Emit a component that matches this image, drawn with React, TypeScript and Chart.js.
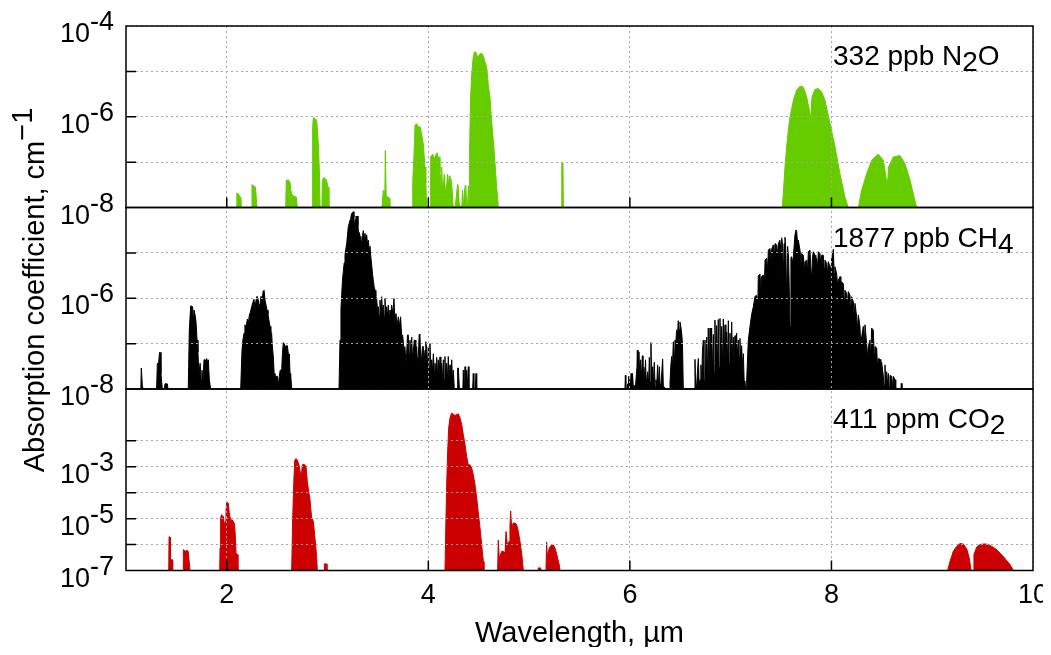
import React, { useEffect, useRef } from "react";
import { Chart, registerables } from "chart.js";

Chart.register(...registerables);

// ---------- data (wavelength in µm, absorption coefficient in cm^-1) ----------
const WAVELENGTH_TICKS = [2, 4, 6, 8, 10];

const N2O_GRID_EXPONENTS = [-8, -7, -6, -5, -4];
const CH4_GRID_EXPONENTS = [-8, -7, -6, -5, -4];
const CO2_GRID_EXPONENTS = [-7, -6, -5, -4, -3, -2];

const N2O_LABEL_EXPONENTS = [-4, -6, -8];
const CH4_LABEL_EXPONENTS = [-6, -8];
const CO2_LABEL_EXPONENTS = [-3, -5, -7];

const N2O_LABEL: [string, number][] = [["332 ppb N", 0], ["2", 6], ["O", 0]];
const CH4_LABEL: [string, number][] = [["1877 ppb CH", 0], ["4", 6]];
const CO2_LABEL: [string, number][] = [["411 ppm CO", 0], ["2", 6]];

const N2O_SPECTRUM: number[][] = [
  [1.0, 1e-8],
  [2.095, 1e-8], [2.1, 2.1e-8], [2.115, 2.0e-8], [2.13, 1.7e-8], [2.14, 1.7e-8], [2.145, 1e-8],
  [2.245, 1e-8], [2.25, 3.2e-8], [2.265, 3.0e-8], [2.285, 2.8e-8], [2.3, 1e-8],
  [2.585, 1e-8], [2.59, 4e-8], [2.615, 4e-8], [2.627, 3.6e-8], [2.635, 2.4e-8], [2.645, 2e-8], [2.66, 1.8e-8], [2.69, 1.7e-8], [2.7, 1e-8],
  [2.846, 1e-8], [2.852, 6e-7], [2.859, 9.6e-7], [2.875, 9.2e-7], [2.892, 8.4e-7], [2.903, 4e-7], [2.912, 1.6e-7], [2.919, 6e-8], [2.926, 1e-8],
  [2.944, 1e-8], [2.948, 4e-8], [2.965, 4.6e-8], [2.99, 4e-8], [3.005, 2.8e-8], [3.014, 1e-8],
  [3.54, 1e-8], [3.553, 2.4e-8], [3.569, 2.2e-8], [3.573, 1.8e-7], [3.579, 1.8e-7], [3.582, 1.8e-8], [3.615, 1.6e-8], [3.618, 1e-8],
  [3.838, 1e-8], [3.845, 3.6e-8], [3.858, 1.5e-7], [3.868, 6.5e-7], [3.88, 7e-7], [3.891, 6.7e-7], [3.9, 5.6e-7], [3.908, 6.2e-7], [3.92, 5.8e-7], [3.935, 4e-7], [3.951, 2.4e-7], [3.967, 7.8e-8], [3.975, 3.5e-8], [3.984, 1e-8],
  [4.017, 1e-8], [4.023, 1.3e-7], [4.043, 1.5e-7], [4.055, 1.2e-7], [4.066, 1.3e-7], [4.078, 1.5e-7], [4.089, 1.6e-7], [4.1, 1.2e-7], [4.108, 1.3e-7], [4.115, 6e-8], [4.122, 4.7e-8], [4.128, 2e-8], [4.132, 7.8e-8], [4.14, 3e-8], [4.148, 2.8e-8], [4.158, 5.4e-8], [4.165, 5.4e-8], [4.172, 2e-8], [4.181, 2.8e-8], [4.19, 5.4e-8], [4.198, 3e-8], [4.208, 5e-8], [4.214, 2.4e-8], [4.224, 4.3e-8], [4.232, 3e-8], [4.24, 2e-8], [4.247, 1e-8],
  [4.263, 1e-8], [4.273, 1.4e-8], [4.29, 3.2e-8], [4.295, 3.2e-8], [4.306, 1.3e-8], [4.319, 1e-8], [4.332, 1e-8], [4.339, 2.4e-8], [4.346, 1.2e-8], [4.352, 1.6e-8], [4.365, 3e-8], [4.372, 3.1e-8], [4.38, 1.2e-8], [4.39, 1.2e-8], [4.398, 3.0e-8], [4.405, 1e-8],
  [4.408, 1e-8], [4.411, 1.8e-7], [4.418, 2.3e-6], [4.431, 9e-6], [4.444, 1.93e-5], [4.456, 2.7e-5], [4.473, 2.6e-5], [4.485, 2.2e-5], [4.496, 2.1e-5], [4.51, 2.4e-5], [4.529, 2.5e-5], [4.545, 2.2e-5], [4.562, 1.6e-5], [4.579, 1.26e-5], [4.595, 5e-6], [4.612, 2.7e-6], [4.628, 8e-7], [4.645, 3e-7], [4.661, 1e-7], [4.678, 2.8e-8], [4.695, 1e-8],
  [5.32, 1e-8], [5.324, 9.7e-8], [5.336, 9.7e-8], [5.34, 1e-8],
  [7.512, 1e-8], [7.522, 2e-8], [7.539, 7.8e-8], [7.556, 2.2e-7], [7.572, 5e-7], [7.589, 9.9e-7], [7.622, 2.3e-6], [7.655, 3.9e-6], [7.688, 4.7e-6], [7.721, 4.5e-6], [7.754, 2.75e-6], [7.78, 1.4e-6], [7.794, 9.1e-7], [7.807, 2.75e-6], [7.837, 4e-6], [7.87, 4.2e-6], [7.903, 3.5e-6], [7.936, 2.3e-6], [7.986, 7.1e-7], [8.035, 2.2e-7], [8.085, 5.5e-8], [8.134, 1.7e-8], [8.167, 1e-8],
  [8.267, 1e-8], [8.3, 2.4e-8], [8.349, 5.5e-8], [8.399, 1.1e-7], [8.465, 1.5e-7], [8.515, 1.1e-7], [8.541, 4.7e-8], [8.554, 2.8e-8], [8.567, 7.8e-8], [8.614, 1.3e-7], [8.68, 1.4e-7], [8.73, 9.2e-8], [8.78, 4e-8], [8.829, 1.4e-8], [8.846, 1e-8],
  [10.0, 1e-8],
];

const CH4_SPECTRUM: number[][] = [
  [1.0, 1e-8],
  [1.14, 1e-8], [1.148, 1.3e-8], [1.152, 2.9e-8], [1.158, 2.9e-8], [1.162, 1.2e-8], [1.17, 1e-8],
  [1.304, 1e-8], [1.311, 3.7e-8], [1.322, 3.4e-8], [1.333, 6.4e-8], [1.34, 6.4e-8], [1.347, 2.2e-8], [1.36, 1e-8],
  [1.38, 1e-8], [1.387, 1.3e-8], [1.41, 1.3e-8], [1.417, 1e-8],
  [1.618, 1e-8], [1.628, 2e-7], [1.642, 6.8e-7], [1.661, 6.5e-7], [1.668, 3e-7], [1.675, 5.5e-7], [1.688, 4e-7], [1.695, 3e-7], [1.705, 1.2e-7], [1.714, 6.6e-8], [1.721, 2.6e-8], [1.728, 2.6e-8], [1.735, 3.7e-8], [1.741, 3.7e-8], [1.748, 1.5e-8], [1.754, 2.6e-8], [1.764, 1.5e-8], [1.774, 4.4e-8], [1.785, 4.4e-8], [1.792, 2e-8], [1.8, 4.7e-8], [1.81, 3.9e-8], [1.817, 4.4e-8], [1.827, 1.6e-8], [1.84, 1e-8],
  [2.138, 1e-8], [2.151, 7.2e-8], [2.16, 1.2e-7], [2.171, 1.7e-7], [2.18, 2.6e-7], [2.188, 2.2e-7], [2.197, 2.8e-7], [2.205, 3.5e-7], [2.214, 2.8e-7], [2.224, 4.3e-7], [2.235, 5e-7], [2.247, 6.5e-7], [2.258, 8e-7], [2.27, 9.5e-7], [2.28, 6e-7], [2.29, 9e-7], [2.3, 1.1e-6], [2.31, 9.9e-7], [2.32, 6.5e-7], [2.33, 7.7e-7], [2.34, 1.1e-6], [2.35, 9e-7], [2.36, 1.4e-6], [2.37, 1.5e-6], [2.38, 9e-7], [2.39, 7e-7], [2.4, 5.5e-7], [2.409, 4.5e-7], [2.418, 3.3e-7], [2.429, 2.4e-7], [2.437, 1.8e-7], [2.445, 1.7e-7], [2.452, 9e-8], [2.462, 5.1e-8], [2.47, 2.2e-8], [2.478, 1.9e-8], [2.49, 1.9e-8], [2.502, 1.9e-8], [2.51, 1.2e-8], [2.521, 1.9e-8], [2.53, 2.6e-8], [2.545, 2.6e-8], [2.552, 6e-8], [2.561, 1.05e-7], [2.571, 1e-7], [2.581, 8.6e-8], [2.591, 9e-8], [2.601, 9e-8], [2.611, 6e-8], [2.621, 5.9e-8], [2.628, 2e-8], [2.634, 2.2e-8], [2.644, 1e-8],
  [3.1135, 1e-8], [3.1235, 1.2e-7], [3.133, 6e-7], [3.14, 1.2e-6], [3.148, 2.5e-6], [3.157, 4e-6], [3.165, 6e-6], [3.173, 9e-6], [3.181, 1.2e-5], [3.19, 1.6e-5], [3.198, 2.5e-5], [3.206, 3.8e-5], [3.215, 4.5e-5], [3.223, 5.3e-5], [3.231, 6e-5], [3.239, 7.4e-5], [3.248, 7.8e-5], [3.256, 8.1e-5], [3.262, 6e-5], [3.269, 3.5e-5], [3.276, 5.5e-5], [3.282, 6.5e-5], [3.289, 6e-5], [3.296, 6.5e-5], [3.302, 4e-5], [3.309, 2.5e-5], [3.316, 2.8e-5], [3.322, 2.3e-5], [3.33, 2e-5], [3.338, 1.6e-5], [3.346, 2.4e-5], [3.355, 3.1e-5], [3.363, 2.2e-5], [3.371, 2.7e-5], [3.38, 2e-5], [3.388, 2.5e-5], [3.396, 1.6e-5], [3.405, 1.9e-5], [3.413, 1.2e-5], [3.421, 1.4e-5], [3.43, 8e-6], [3.438, 5.4e-6], [3.446, 3.5e-6], [3.454, 2.5e-6], [3.462, 1.8e-6], [3.471, 1.5e-6], [3.479, 1.1e-6], [3.487, 9.9e-7], [3.495, 6e-7], [3.504, 6.5e-7], [3.512, 4e-7], [3.52, 9.1e-7], [3.528, 5e-7], [3.537, 1.08e-6], [3.545, 5e-7], [3.554, 7.1e-7], [3.562, 4e-7], [3.57, 9.9e-7], [3.578, 4.5e-7], [3.587, 6.5e-7], [3.595, 4e-7], [3.603, 7.1e-7], [3.612, 3.5e-7], [3.62, 5.5e-7], [3.628, 3.8e-7], [3.636, 7.1e-7], [3.648, 4.5e-7], [3.659, 9.9e-7], [3.669, 3e-7], [3.679, 4.6e-7], [3.69, 2.5e-7], [3.702, 3.9e-7], [3.713, 2.5e-7], [3.725, 3.9e-7], [3.735, 1.5e-7], [3.745, 1.55e-7], [3.757, 8e-8], [3.768, 8.6e-8], [3.777, 4e-8], [3.785, 6.1e-8], [3.793, 1.55e-7], [3.801, 1.55e-7], [3.81, 6e-8], [3.818, 1.2e-7], [3.826, 5e-8], [3.835, 1.4e-7], [3.843, 5e-8], [3.851, 6.6e-8], [3.86, 1.2e-7], [3.868, 1.2e-7], [3.876, 5e-8], [3.884, 8.6e-8], [3.892, 4e-8], [3.901, 5.2e-8], [3.909, 1.6e-7], [3.917, 1.55e-7], [3.925, 4e-8], [3.934, 5.2e-8], [3.942, 8.6e-8], [3.95, 8.6e-8], [3.958, 4e-8], [3.967, 7.2e-8], [3.975, 1.1e-7], [3.983, 8e-8], [3.991, 3e-8], [4.0, 8.6e-8], [4.008, 3e-8], [4.016, 1.0e-7], [4.024, 2.5e-8], [4.033, 4.4e-8], [4.041, 2.5e-8], [4.05, 6e-8], [4.058, 2.5e-8], [4.066, 3.7e-8], [4.075, 2e-8], [4.083, 5e-8], [4.091, 2e-8], [4.099, 4.4e-8], [4.107, 2e-8], [4.116, 5.1e-8], [4.124, 1.6e-8], [4.132, 3.7e-8], [4.14, 1.6e-8], [4.149, 4.4e-8], [4.157, 1.6e-8], [4.165, 5.2e-8], [4.173, 1.5e-8], [4.182, 3.7e-8], [4.19, 1.5e-8], [4.198, 5.2e-8], [4.206, 1.5e-8], [4.215, 3.4e-8], [4.223, 1.5e-8], [4.232, 4.4e-8], [4.24, 1.5e-8], [4.248, 2.6e-8], [4.258, 1e-8],
  [4.285, 1e-8], [4.291, 2.9e-8], [4.298, 2.9e-8], [4.308, 1e-8],
  [4.343, 1e-8], [4.347, 2.6e-8], [4.352, 1e-8], [4.36, 1e-8], [4.364, 3.1e-8], [4.37, 1e-8], [4.376, 1e-8], [4.38, 2.6e-8], [4.386, 1e-8], [4.392, 1e-8], [4.397, 3.1e-8], [4.403, 1e-8], [4.44, 1e-8], [4.446, 2.2e-8], [4.452, 1e-8], [4.466, 1e-8], [4.473, 2.2e-8], [4.48, 1e-8],
  [5.951, 1e-8], [5.955, 2e-8], [5.96, 1e-8], [5.972, 1e-8], [5.976, 1.3e-8], [5.982, 1e-8], [5.986, 1.9e-8], [5.99, 1.1e-8], [5.997, 1.6e-8], [6.004, 1.1e-8], [6.012, 2.2e-8], [6.018, 1.2e-8], [6.026, 2.2e-8], [6.034, 1.1e-8], [6.045, 1.2e-8], [6.055, 1.1e-8], [6.07, 3e-8], [6.074, 7.2e-8], [6.08, 2.5e-8], [6.09, 6.6e-8], [6.098, 2e-8], [6.107, 4.4e-8], [6.114, 1.6e-8], [6.124, 5.4e-8], [6.13, 1.5e-8], [6.14, 3e-8], [6.147, 1.4e-8], [6.155, 4.4e-8], [6.162, 1.3e-8], [6.176, 2.4e-8], [6.185, 1.2e-8], [6.193, 5e-8], [6.2, 1.4e-8], [6.209, 1.05e-7], [6.216, 1.5e-8], [6.226, 3.1e-8], [6.232, 1.2e-8], [6.242, 3.9e-8], [6.25, 1.1e-8], [6.259, 1.6e-8], [6.266, 1.1e-8], [6.275, 3.4e-8], [6.282, 1.1e-8], [6.292, 3.1e-8], [6.3, 1.1e-8], [6.31, 1.4e-8], [6.325, 4.6e-8], [6.332, 1.1e-8], [6.342, 1.1e-8], [6.355, 1e-8],
  [6.395, 1e-8], [6.398, 1.33e-8], [6.405, 3e-8], [6.414, 5.2e-8], [6.422, 3e-8], [6.431, 1.1e-7], [6.44, 6e-8], [6.447, 1.2e-7], [6.455, 1e-7], [6.464, 2e-7], [6.472, 1.5e-7], [6.48, 3.2e-7], [6.488, 2e-7], [6.497, 3e-7], [6.505, 2.4e-7], [6.514, 1.7e-7], [6.522, 1e-7], [6.53, 1e-8],
  [6.64, 1e-8], [6.646, 4.5e-8], [6.652, 1.2e-8], [6.662, 1.2e-8], [6.667, 1.8e-8], [6.679, 4.7e-8], [6.688, 1.2e-8], [6.696, 1.6e-8], [6.705, 3.4e-8], [6.712, 1.2e-8], [6.72, 7e-8], [6.729, 1.2e-7], [6.737, 1.5e-8], [6.745, 1.2e-7], [6.752, 1.4e-8], [6.762, 1.4e-7], [6.77, 2e-8], [6.778, 2.2e-7], [6.786, 1.5e-8], [6.795, 2.2e-7], [6.803, 2e-8], [6.811, 2.2e-7], [6.82, 2.5e-8], [6.828, 1.6e-7], [6.836, 2.2e-8], [6.844, 3.3e-7], [6.852, 2.5e-8], [6.861, 2.5e-7], [6.869, 3e-8], [6.877, 3.4e-7], [6.885, 3e-8], [6.894, 3.6e-7], [6.902, 3.5e-8], [6.911, 2.4e-7], [6.919, 3e-8], [6.927, 3.5e-7], [6.935, 4e-8], [6.944, 2.6e-7], [6.952, 3.5e-8], [6.96, 1.8e-7], [6.968, 4e-8], [6.977, 3.2e-7], [6.985, 3.5e-8], [6.993, 1.7e-7], [7.001, 4e-8], [7.01, 3e-7], [7.018, 5e-8], [7.026, 1.4e-7], [7.034, 4e-8], [7.043, 1.5e-7], [7.051, 5e-8], [7.059, 1.7e-7], [7.067, 5e-8], [7.076, 1.2e-7], [7.084, 5e-8], [7.092, 1.3e-7], [7.1, 4e-8], [7.109, 9e-8], [7.117, 3e-8], [7.126, 6e-8], [7.134, 1.5e-8], [7.142, 1.4e-8], [7.15, 1e-8],
  [7.155, 1e-8], [7.159, 1.6e-8], [7.175, 1.2e-7], [7.192, 2.4e-7], [7.208, 4.4e-7], [7.225, 6.5e-7], [7.241, 1.1e-6], [7.258, 1.15e-6], [7.27, 8e-7], [7.274, 3.1e-6], [7.291, 3.4e-6], [7.3, 1.5e-6], [7.307, 3e-6], [7.324, 3.25e-6], [7.335, 2e-6], [7.341, 6.9e-6], [7.357, 7.6e-6], [7.366, 4e-6], [7.374, 1.15e-5], [7.39, 1.25e-5], [7.4, 7e-6], [7.407, 1.2e-5], [7.423, 1.5e-5], [7.432, 8e-6], [7.44, 1.6e-5], [7.456, 1.5e-5], [7.465, 9e-6], [7.473, 1.6e-5], [7.489, 1.9e-5], [7.5, 1e-5], [7.506, 2.15e-5], [7.515, 1.5e-5], [7.522, 3e-6], [7.53, 1.6e-5], [7.539, 2.2e-5], [7.547, 1.2e-5], [7.556, 8.4e-7], [7.565, 1.4e-5], [7.575, 7.6e-6], [7.589, 2.4e-7], [7.598, 8e-6], [7.605, 8.2e-6], [7.615, 6e-6], [7.622, 8.2e-6], [7.638, 2.5e-5], [7.648, 3.2e-5], [7.655, 3e-5], [7.665, 1.5e-5], [7.671, 1.9e-5], [7.688, 1.15e-5], [7.7, 6e-6], [7.704, 9.7e-6], [7.721, 8.9e-6], [7.73, 5e-6], [7.737, 6.4e-6], [7.754, 6.9e-6], [7.762, 4e-6], [7.771, 1.06e-5], [7.787, 1.15e-5], [7.795, 5e-6], [7.804, 2.5e-6], [7.812, 8e-6], [7.82, 1.06e-5], [7.837, 8.9e-6], [7.845, 5e-6], [7.853, 7.6e-6], [7.862, 4.5e-6], [7.87, 1.06e-5], [7.886, 9.7e-6], [7.895, 5e-6], [7.903, 8.9e-6], [7.919, 8.9e-6], [7.928, 4.5e-6], [7.936, 6.9e-6], [7.952, 5.9e-6], [7.96, 3.5e-6], [7.969, 6.4e-6], [7.986, 4.95e-6], [7.995, 3e-6], [8.002, 7.6e-6], [8.019, 1.2e-5], [8.027, 3.5e-6], [8.035, 4.95e-6], [8.052, 3.5e-6], [8.06, 2e-6], [8.068, 2.5e-6], [8.085, 3e-6], [8.093, 1.5e-6], [8.101, 2.3e-6], [8.118, 2.1e-6], [8.126, 1e-6], [8.134, 1.5e-6], [8.151, 1.28e-6], [8.16, 7e-7], [8.167, 1.4e-6], [8.184, 1.17e-6], [8.19, 5e-7], [8.2, 1.08e-6], [8.217, 8.4e-7], [8.225, 4e-7], [8.234, 7.7e-7], [8.25, 3.9e-7], [8.258, 2e-7], [8.267, 4.3e-7], [8.283, 2.4e-7], [8.29, 1e-7], [8.3, 1.4e-7], [8.316, 2.4e-7], [8.325, 8e-8], [8.333, 2.6e-7], [8.349, 1e-7], [8.357, 5e-8], [8.366, 8.6e-8], [8.382, 1.2e-7], [8.39, 5e-8], [8.399, 2.2e-7], [8.415, 2e-7], [8.424, 6e-8], [8.432, 8.6e-8], [8.449, 8e-8], [8.457, 3e-8], [8.465, 4.7e-8], [8.482, 4.5e-8], [8.49, 2e-8], [8.498, 3.9e-8], [8.515, 1.9e-8], [8.523, 1.2e-8], [8.531, 3.4e-8], [8.54, 1.2e-8], [8.548, 2.4e-8], [8.556, 1.2e-8], [8.564, 2.2e-8], [8.573, 1.1e-8], [8.581, 2e-8], [8.597, 1.9e-8], [8.605, 1.1e-8], [8.614, 1.9e-8], [8.631, 1.6e-8], [8.638, 1e-8],
  [8.69, 1e-8], [8.693, 1.33e-8], [8.7, 1e-8],
  [10.0, 1e-8],
];

const CO2_SPECTRUM: number[][] = [
  [1.0, 1e-7],
  [1.424, 1e-7], [1.427, 2e-6], [1.437, 1.9e-6], [1.441, 2.6e-7], [1.46, 2.6e-7], [1.463, 1e-7],
  [1.566, 1e-7], [1.569, 6.4e-7], [1.589, 5.5e-7], [1.602, 6e-7], [1.618, 5.5e-7], [1.635, 1e-7],
  [1.93, 1e-7], [1.933, 7.4e-7], [1.939, 1.06e-5], [1.949, 1.43e-5], [1.96, 1.2e-5], [1.966, 1.23e-5], [1.976, 5.9e-6], [1.986, 7.9e-6], [1.992, 1.9e-5], [1.999, 4.4e-5], [2.008, 4.2e-5], [2.015, 4e-5], [2.025, 1.66e-5], [2.039, 8.3e-6], [2.052, 9.2e-6], [2.065, 7.9e-6], [2.078, 5.9e-6], [2.085, 2e-6], [2.092, 4.7e-7], [2.105, 4.1e-7], [2.111, 1e-7],
  [2.644, 1e-7], [2.654, 1.06e-5], [2.664, 2.06e-4], [2.674, 1.74e-3], [2.687, 2.07e-3], [2.703, 1.74e-3], [2.712, 1.3e-3], [2.72, 1.05e-3], [2.73, 5.8e-4], [2.74, 4.5e-4], [2.75, 1.2e-3], [2.766, 1.25e-3], [2.786, 1.05e-3], [2.799, 2.76e-4], [2.813, 1.1e-4], [2.826, 5.4e-5], [2.842, 1.06e-5], [2.859, 7.9e-6], [2.875, 1.8e-6], [2.892, 3.5e-7], [2.898, 1e-7],
  [2.965, 1e-7], [2.968, 1.8e-7], [2.991, 1.8e-7], [2.994, 1e-7],
  [4.165, 1e-7], [4.175, 1.06e-5], [4.182, 2.06e-4], [4.192, 4e-3], [4.202, 3.2e-2], [4.215, 7.7e-2], [4.232, 0.12], [4.248, 0.104], [4.265, 0.095], [4.281, 0.104], [4.298, 0.11], [4.314, 7.7e-2], [4.331, 4.3e-2], [4.347, 1.75e-2], [4.364, 7.2e-3], [4.38, 2.55e-3], [4.397, 1.15e-3], [4.413, 1.2e-3], [4.43, 9e-4], [4.446, 5e-4], [4.463, 2.06e-4], [4.48, 6.3e-5], [4.496, 1.66e-5], [4.513, 4.4e-6], [4.529, 1e-6], [4.546, 2.2e-7], [4.552, 1e-7],
  [4.688, 1e-7], [4.694, 1.5e-6], [4.704, 3e-7], [4.728, 5.5e-7], [4.744, 5.5e-7], [4.761, 4.7e-7], [4.771, 3.2e-6], [4.784, 1e-6], [4.801, 1.33e-6], [4.81, 5e-6], [4.817, 2e-5], [4.827, 4.4e-6], [4.835, 6e-6], [4.843, 6.8e-6], [4.86, 6.8e-6], [4.876, 5.9e-6], [4.893, 3.2e-6], [4.909, 1.33e-6], [4.926, 4.7e-7], [4.943, 1e-7],
  [5.088, 1e-7], [5.091, 1.26e-7], [5.115, 1.26e-7], [5.118, 1e-7],
  [5.167, 1e-7], [5.174, 1.26e-6], [5.18, 3.5e-7], [5.2, 7.4e-7], [5.217, 9.3e-7], [5.234, 1e-6], [5.25, 8.5e-7], [5.267, 5.5e-7], [5.283, 3e-7], [5.3, 1.6e-7], [5.307, 1e-7],
  [9.153, 1e-7], [9.176, 2.2e-7], [9.209, 5.5e-7], [9.242, 8.5e-7], [9.276, 1.1e-6], [9.308, 1.05e-6], [9.342, 6.9e-7], [9.368, 3e-7], [9.385, 1e-7],
  [9.405, 1e-7], [9.414, 4.1e-7], [9.441, 8e-7], [9.474, 1e-6], [9.507, 1.05e-6], [9.54, 1.05e-6], [9.573, 9.3e-7], [9.606, 7.8e-7], [9.639, 6.4e-7], [9.672, 4.7e-7], [9.705, 3.5e-7], [9.739, 2.4e-7], [9.772, 1.7e-7], [9.805, 1e-7],
  [10.0, 1e-7],
];

// ---------- styling ----------
const GREEN = "#66cc00";
const BLACK = "#000000";
const RED = "#cc0000";
const GRID_COLOR = "#a6a6a6";
const FAMILY = '"Liberation Sans", Arial, Helvetica, sans-serif';
const TICK_FONT = "27px " + FAMILY;
const LABEL_FONT = "28px " + FAMILY;
const TITLE_FONT = "29px " + FAMILY;

const W = 1043;
const H = 639;

function drawRuns(ctx: CanvasRenderingContext2D, runs: [string, number][], x: number, y: number, align: "left" | "right" | "center") {
  const widths = runs.map((r) => ctx.measureText(r[0]).width);
  const total = widths.reduce((a, b) => a + b, 0);
  let cx = align === "left" ? x : align === "right" ? x - total : x - total / 2;
  ctx.textAlign = "left";
  runs.forEach((r, i) => {
    ctx.fillText(r[0], cx, y + r[1]);
    cx += widths[i];
  });
}

const PANELS = [
  { id: "yN2O", grid: N2O_GRID_EXPONENTS, labels: N2O_LABEL_EXPONENTS, name: N2O_LABEL },
  { id: "yCH4", grid: CH4_GRID_EXPONENTS, labels: CH4_LABEL_EXPONENTS, name: CH4_LABEL },
  { id: "yCO2", grid: CO2_GRID_EXPONENTS, labels: CO2_LABEL_EXPONENTS, name: CO2_LABEL },
];

const framePlugin = {
  id: "panelFrames",
  afterDraw(chart: any) {
    const ctx: CanvasRenderingContext2D = chart.ctx;
    const area = chart.chartArea;
    const xs = chart.scales.x;
    ctx.save();
    ctx.strokeStyle = "#000";
    ctx.lineWidth = 1.5;
    for (const p of PANELS) {
      const s = chart.scales[p.id];
      ctx.strokeRect(area.left, s.top, area.right - area.left, s.bottom - s.top);
      ctx.beginPath();
      for (const e of p.grid) {
        const y = s.getPixelForValue(Math.pow(10, e));
        if (y > s.top + 1 && y < s.bottom - 1) {
          ctx.moveTo(area.left, y);
          ctx.lineTo(area.left + 10, y);
        }
      }
      if (p.id !== "yCH4") {
        for (const v of WAVELENGTH_TICKS) {
          const x = xs.getPixelForValue(v);
          if (x < area.right - 1) {
            ctx.moveTo(x, s.bottom);
            ctx.lineTo(x, s.bottom - 10);
          }
        }
      }
      ctx.stroke();
    }

    ctx.fillStyle = "#000";
    ctx.textBaseline = "alphabetic";

    for (const p of PANELS) {
      const s = chart.scales[p.id];
      ctx.font = TICK_FONT;
      for (const e of p.labels) {
        const y = s.getPixelForValue(Math.pow(10, e));
        drawRuns(ctx, [["10", 0], ["-" + Math.abs(e), -12]], 106, y + 16, "right");
      }
      ctx.font = LABEL_FONT;
      drawRuns(ctx, p.name, area.right - 200, s.top + 39, "left");
    }

    ctx.font = TICK_FONT;
    for (const v of WAVELENGTH_TICKS) {
      const x = xs.getPixelForValue(v);
      drawRuns(ctx, [[String(v), 0]], x, area.bottom + 32.5, "center");
    }

    ctx.font = TITLE_FONT;
    drawRuns(ctx, [["Wavelength, \u00b5m", 0]], (area.left + area.right) / 2, area.bottom + 71.5, "center");

    ctx.save();
    ctx.translate(36, 282);
    ctx.rotate(-Math.PI / 2);
    drawRuns(ctx, [["Absorption coefficient, cm", 0], ["\u22121", -12]], 0, 0, "center");
    ctx.restore();

    ctx.restore();
  },
};

function logAxis(min: number, max: number, gridExps: number[]) {
  return {
    type: "logarithmic",
    position: "left",
    stack: "panels",
    stackWeight: 1,
    min,
    max,
    afterBuildTicks: (s: any) => {
      s.ticks = gridExps.map((e) => ({ value: Math.pow(10, e) }));
    },
    afterFit: (s: any) => {
      s.width = 118;
    },
    ticks: { display: false },
    grid: { color: GRID_COLOR, lineWidth: 1, drawTicks: false, z: 1 },
    border: { display: false, dash: [2, 3] },
  };
}

const toPoints = (arr: number[][]) => arr.map(([x, y]) => ({ x, y }));

export default function App() {
  const canvasRef = useRef<HTMLCanvasElement | null>(null);

  useEffect(() => {
    const canvas = canvasRef.current;
    if (!canvas) return;
    const mk = (data: number[][], color: string, axis: string) => ({
      data: toPoints(data),
      yAxisID: axis,
      borderColor: color,
      backgroundColor: color,
      borderWidth: 1,
      fill: "start",
      pointRadius: 0,
      tension: 0,
    });
    const chart = new Chart(canvas, {
      type: "line",
      data: {
        datasets: [
          mk(N2O_SPECTRUM, GREEN, "yN2O"),
          mk(CH4_SPECTRUM, BLACK, "yCH4"),
          mk(CO2_SPECTRUM, RED, "yCO2"),
        ] as any,
      },
      options: {
        animation: false,
        responsive: false,
        devicePixelRatio: 1,
        layout: { padding: { top: 18, right: 18, bottom: 0, left: 0 } },
        plugins: { legend: { display: false }, tooltip: { enabled: false } },
        scales: {
          x: {
            type: "linear",
            min: 1,
            max: 10,
            afterBuildTicks: (s: any) => {
              s.ticks = WAVELENGTH_TICKS.map((v) => ({ value: v }));
            },
            afterFit: (s: any) => {
              s.height = 76.5;
            },
            ticks: { display: false },
            grid: { color: GRID_COLOR, lineWidth: 1, drawTicks: false, z: 1 },
            border: { display: false, dash: [2, 3] },
          },
          yCO2: logAxis(1e-7, 1, CO2_GRID_EXPONENTS),
          yCH4: logAxis(1e-8, 1e-4, CH4_GRID_EXPONENTS),
          yN2O: logAxis(1e-8, 1e-4, N2O_GRID_EXPONENTS),
        } as any,
      },
      plugins: [framePlugin],
    });
    return () => chart.destroy();
  }, []);

  return (
    <div style={{ width: W, height: H }}>
      <canvas ref={canvasRef} width={W} height={H} style={{ display: "block", width: W, height: H }} />
    </div>
  );
}
